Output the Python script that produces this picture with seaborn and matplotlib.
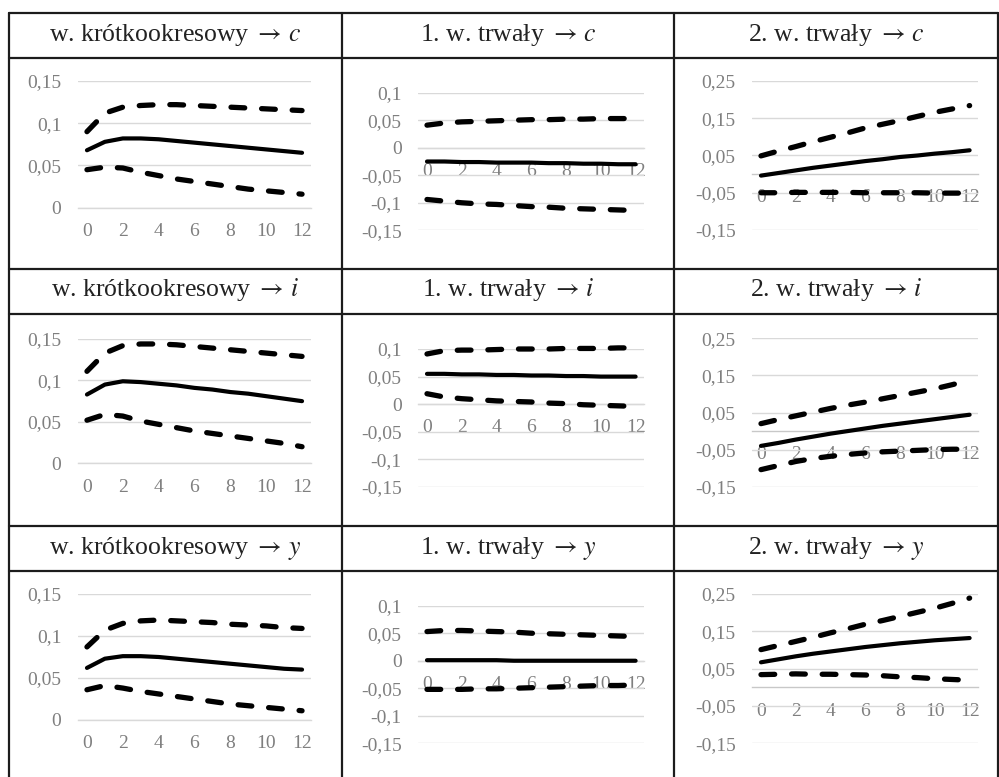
import matplotlib
matplotlib.use("Agg")
import matplotlib.pyplot as plt
from matplotlib.lines import Line2D
import seaborn as sns
import pandas as pd

# ---------------- data ----------------
steps = list(range(13))
x_tick_pos = [0, 2, 4, 6, 8, 10, 12]
x_tick_lbl = ["0", "2", "4", "6", "8", "10", "12"]

col_titles = ["w. krótkookresowy", "1. w. trwały", "2. w. trwały"]
row_vars = ["c", "i", "y"]

# y-axis ticks per column
yt_col1 = [0, 0.05, 0.1, 0.15]
yl_col1 = ["0", "0,05", "0,1", "0,15"]
yt_col2 = [-0.15, -0.1, -0.05, 0, 0.05, 0.1]
yl_col2 = ["-0,15", "-0,1", "-0,05", "0", "0,05", "0,1"]
yt_col3 = [-0.15, -0.05, 0.05, 0.15, 0.25]
yl_col3 = ["-0,15", "-0,05", "0,05", "0,15", "0,25"]

# shock -> c
c_short_mid = [0.068, 0.078, 0.082, 0.082, 0.081, 0.079, 0.077, 0.075, 0.073, 0.071, 0.069, 0.067, 0.065]
c_short_up  = [0.090, 0.112, 0.119, 0.121, 0.122, 0.122, 0.121, 0.120, 0.119, 0.118, 0.117, 0.116, 0.115]
c_short_lo  = [0.045, 0.048, 0.047, 0.042, 0.038, 0.034, 0.031, 0.028, 0.025, 0.022, 0.020, 0.018, 0.016]
c_p1_mid = [-0.025, -0.025, -0.026, -0.026, -0.027, -0.027, -0.027, -0.028, -0.028, -0.029, -0.029, -0.030, -0.030]
c_p1_up  = [0.041, 0.045, 0.047, 0.048, 0.049, 0.050, 0.051, 0.051, 0.052, 0.052, 0.053, 0.053, 0.053]
c_p1_lo  = [-0.094, -0.097, -0.100, -0.102, -0.103, -0.105, -0.107, -0.108, -0.110, -0.111, -0.112, -0.113, -0.114]
c_p2_mid = [-0.004, 0.003, 0.010, 0.017, 0.023, 0.029, 0.035, 0.040, 0.046, 0.050, 0.055, 0.059, 0.064]
c_p2_up  = [0.049, 0.062, 0.074, 0.087, 0.099, 0.111, 0.124, 0.134, 0.144, 0.155, 0.166, 0.175, 0.184]
c_p2_lo  = [-0.050, -0.050, -0.049, -0.049, -0.049, -0.049, -0.050, -0.050, -0.050, -0.050, -0.051, -0.051, -0.051]

# shock -> i
i_short_mid = [0.083, 0.095, 0.099, 0.098, 0.096, 0.094, 0.091, 0.089, 0.086, 0.084, 0.081, 0.078, 0.075]
i_short_up  = [0.111, 0.133, 0.142, 0.144, 0.144, 0.143, 0.141, 0.139, 0.137, 0.135, 0.133, 0.131, 0.129]
i_short_lo  = [0.052, 0.059, 0.057, 0.051, 0.047, 0.043, 0.039, 0.036, 0.033, 0.030, 0.027, 0.024, 0.020]
i_p1_mid = [0.055, 0.055, 0.054, 0.054, 0.053, 0.053, 0.052, 0.052, 0.051, 0.051, 0.050, 0.050, 0.050]
i_p1_up  = [0.091, 0.097, 0.098, 0.098, 0.099, 0.100, 0.100, 0.100, 0.101, 0.101, 0.101, 0.102, 0.102]
i_p1_lo  = [0.019, 0.013, 0.010, 0.008, 0.006, 0.005, 0.004, 0.002, 0.001, -0.001, -0.002, -0.003, -0.004]
i_p2_mid = [-0.040, -0.032, -0.023, -0.015, -0.007, 0.000, 0.007, 0.014, 0.020, 0.026, 0.032, 0.038, 0.044]
i_p2_up  = [0.020, 0.031, 0.041, 0.051, 0.061, 0.070, 0.078, 0.087, 0.096, 0.105, 0.114, 0.125, 0.137]
i_p2_lo  = [-0.104, -0.093, -0.082, -0.074, -0.068, -0.063, -0.059, -0.056, -0.054, -0.052, -0.050, -0.049, -0.049]

# shock -> y
y_short_mid = [0.062, 0.073, 0.076, 0.076, 0.075, 0.073, 0.071, 0.069, 0.067, 0.065, 0.063, 0.061, 0.060]
y_short_up  = [0.087, 0.107, 0.115, 0.118, 0.119, 0.118, 0.117, 0.116, 0.114, 0.113, 0.112, 0.110, 0.109]
y_short_lo  = [0.036, 0.041, 0.038, 0.034, 0.031, 0.028, 0.025, 0.022, 0.019, 0.017, 0.015, 0.013, 0.011]
y_p1_mid = [0.001, 0.001, 0.001, 0.001, 0.001, 0.000, 0.000, 0.000, 0.000, 0.000, 0.000, 0.000, 0.000]
y_p1_up  = [0.053, 0.055, 0.055, 0.054, 0.053, 0.052, 0.050, 0.049, 0.048, 0.047, 0.046, 0.045, 0.044]
y_p1_lo  = [-0.052, -0.052, -0.052, -0.051, -0.051, -0.050, -0.049, -0.048, -0.047, -0.046, -0.045, -0.045, -0.044]
y_p2_mid = [0.067, 0.075, 0.083, 0.090, 0.096, 0.102, 0.108, 0.113, 0.118, 0.122, 0.126, 0.129, 0.132]
y_p2_up  = [0.101, 0.112, 0.123, 0.134, 0.146, 0.157, 0.169, 0.179, 0.190, 0.201, 0.212, 0.225, 0.239]
y_p2_lo  = [0.034, 0.035, 0.036, 0.035, 0.035, 0.034, 0.033, 0.031, 0.028, 0.026, 0.023, 0.021, 0.019]

panels = [
    [(c_short_mid, c_short_up, c_short_lo), (c_p1_mid, c_p1_up, c_p1_lo), (c_p2_mid, c_p2_up, c_p2_lo)],
    [(i_short_mid, i_short_up, i_short_lo), (i_p1_mid, i_p1_up, i_p1_lo), (i_p2_mid, i_p2_up, i_p2_lo)],
    [(y_short_mid, y_short_up, y_short_lo), (y_p1_mid, y_p1_up, y_p1_lo), (y_p2_mid, y_p2_up, y_p2_lo)],
]
col_yticks = [(yt_col1, yl_col1), (yt_col2, yl_col2), (yt_col3, yl_col3)]

# ---------------- styling / layout ----------------
sns.set_style("white")
plt.rcParams["font.family"] = ["Liberation Serif", "DejaVu Serif"]
plt.rcParams["mathtext.fontset"] = "stix"

W, H = 999, 777
fig = plt.figure(figsize=(W / 100, H / 100), dpi=100)
fig.patch.set_facecolor("white")


def fx(px):
    return px / W


def fy(py):
    return 1 - py / H


# table lines
border = "#1c1c1c"
xs_cols = [8.5, 342, 674, 997.5]
ys_rows = [13, 57.5, 269, 313.5, 526, 571]
for yv in ys_rows:
    fig.add_artist(Line2D([fx(xs_cols[0]), fx(xs_cols[-1])], [fy(yv), fy(yv)],
                          transform=fig.transFigure, color=border, lw=1.6))
for xv in xs_cols:
    fig.add_artist(Line2D([fx(xv), fx(xv)], [fy(13), fy(H + 5)],
                          transform=fig.transFigure, color=border, lw=1.6))

# header texts
col_centers = [175, 508, 836]
row_baselines = [41, 296, 553.5]
for r in range(3):
    for c in range(3):
        fig.text(fx(col_centers[c]), fy(row_baselines[r]),
                 col_titles[c] + " $\\rightarrow\\, \\mathit{" + row_vars[r] + "}$",
                 ha="center", va="baseline", fontsize=18.5, color="#222222")

# plot-area rectangles (left, right, top, bottom) in pixels
col_x = [(78, 311), (418.3, 644.3), (752.3, 978.3)]
row_y = [
    [(81, 207.7), (92.7, 230.3), (81, 230)],
    [(339, 463.3), (349, 487), (338.3, 486.7)],
    [(594, 720), (605.7, 743.3), (594, 743.3)],
]
col_ylim = [(0, 0.15), (-0.15, 0.1), (-0.15, 0.25)]

grid_col = "#d9d9d9"
lab_col = "#7f7f7f"

for r in range(3):
    for c in range(3):
        x0, x1 = col_x[c]
        y0, y1 = row_y[r][c]
        ax = fig.add_axes([fx(x0), fy(y1), fx(x1 - x0), (y1 - y0) / H])
        ax.set_facecolor("none")
        mid, up, lo = panels[r][c]
        df = pd.DataFrame({"step": steps, "mid": mid, "up": up, "lo": lo})
        for col in ["up", "lo"]:
            sns.lineplot(data=df, x="step", y=col, ax=ax, color="black", lw=3.8,
                         linestyle=(0, (2.6, 3.2)), dash_capstyle="round",
                         clip_on=False, zorder=3)
        sns.lineplot(data=df, x="step", y="mid", ax=ax, color="black", lw=3.0,
                     solid_capstyle="round", solid_joinstyle="round",
                     clip_on=False, zorder=4)
        ax.set_xlim(-0.5, 12.5)
        ax.set_ylim(*col_ylim[c])
        yt, yl = col_yticks[c]
        ax.set_yticks(yt)
        ax.set_yticklabels(yl)
        ax.set_xticks(x_tick_pos)
        ax.set_xticklabels(x_tick_lbl)
        ax.set_xlabel("")
        ax.set_ylabel("")
        ax.yaxis.grid(True, color=grid_col, lw=1.0, zorder=0)
        ax.xaxis.grid(False)
        ax.set_axisbelow(True)
        for s in ["top", "right", "left"]:
            ax.spines[s].set_visible(False)
        ax.spines["bottom"].set_position(("data", 0))
        ax.spines["bottom"].set_color("#c8c8c8" if c == 2 else grid_col)
        ax.spines["bottom"].set_linewidth(1.0)
        ax.spines["bottom"].set_zorder(1)
        ax.tick_params(axis="both", length=0, labelsize=14, labelcolor=lab_col)
        ax.tick_params(axis="y", pad=12)
        ax.tick_params(axis="x", pad=11)

fig.savefig("out.png", dpi=100, facecolor="white")
